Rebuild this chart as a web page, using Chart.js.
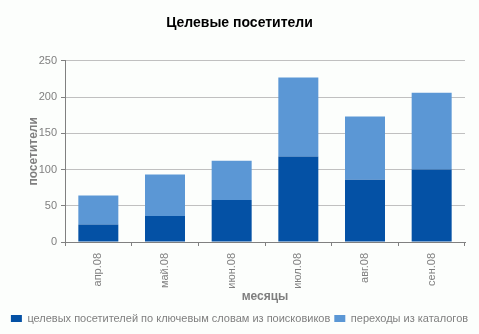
<!DOCTYPE html>
<html>
<head>
<meta charset="utf-8">
<script src="https://cdn.jsdelivr.net/npm/chart.js@4"></script>
<style>
  html, body { margin: 0; padding: 0; background: #fcfefc; }
  #wrap { width: 479px; height: 334px; }
</style>
</head>
<body>
<div id="wrap"><canvas id="chart" width="479" height="334"></canvas></div>
<script>
// месяцы
const months = ['апр.08', 'май.08', 'июн.08', 'июл.08', 'авг.08', 'сен.08'];
// посетители по ключевым словам
const searchVisitors = [24, 36, 58, 118, 86, 100];
// переходы из каталогов
const catalogVisitors = [40, 57, 54, 109, 87, 106];
const yTicks = [0, 50, 100, 150, 200, 250];

const grayText = '#7f7f7f';
const font = '"Liberation Sans", Arial, sans-serif';

new Chart(document.getElementById('chart'), {
    type: 'bar',
    data: {
        labels: months,
        datasets: [
            {
                label: 'целевых посетителей по ключевым словам из поисковиков',
                data: searchVisitors,
                backgroundColor: '#0451a5',
                categoryPercentage: 1,
                barPercentage: 0.6
            },
            {
                label: 'переходы из каталогов',
                data: catalogVisitors,
                backgroundColor: '#5b97d5',
                categoryPercentage: 1,
                barPercentage: 0.6
            }
        ]
    },
    options: {
        responsive: false,
        animation: false,
        layout: { padding: { left: 0, right: 0, top: 0, bottom: 0 } },
        plugins: {
            title: {
                display: true,
                text: 'Целевые посетители',
                color: '#000',
                font: { family: font, size: 14, weight: 'bold' },
                padding: { top: 15, bottom: 29 }
            },
            legend: {
                position: 'bottom',
                labels: {
                    color: grayText,
                    font: { family: font, size: 11 },
                    boxWidth: 11,
                    boxHeight: 7,
                    padding: 4
                }
            },
            tooltip: { enabled: false }
        },
        scales: {
            x: {
                stacked: true,
                afterFit: axis => { axis.height = 67; },
                grid: { drawOnChartArea: false, color: '#808080', tickLength: 4 },
                border: { color: '#808080' },
                ticks: {
                    color: grayText,
                    font: { family: font, size: 11 },
                    minRotation: 90,
                    maxRotation: 90,
                    padding: 7
                },
                title: {
                    display: true,
                    text: 'месяцы',
                    color: grayText,
                    font: { family: font, size: 12, weight: 'bold' },
                    padding: { top: 4, bottom: 5 }
                }
            },
            y: {
                stacked: true,
                min: 0,
                max: 250,
                afterBuildTicks: axis => { axis.ticks = yTicks.map(v => ({ value: v })); },
                afterFit: axis => { axis.width = 65; },
                grid: { color: '#c0c0c0', tickColor: '#808080', tickLength: 4 },
                border: { color: '#808080' },
                ticks: {
                    color: grayText,
                    font: { family: font, size: 11 },
                    padding: 4
                },
                title: {
                    display: true,
                    text: 'посетители',
                    color: grayText,
                    font: { family: font, size: 12, weight: 'bold' },
                    padding: { top: 26, bottom: 0 }
                }
            },
            // пустое поле справа от графика
            right: {
                type: 'linear',
                position: 'right',
                afterFit: axis => { axis.width = 14; },
                grid: { display: false },
                border: { display: false },
                ticks: { display: false }
            }
        }
    }
});
</script>
</body>
</html>
